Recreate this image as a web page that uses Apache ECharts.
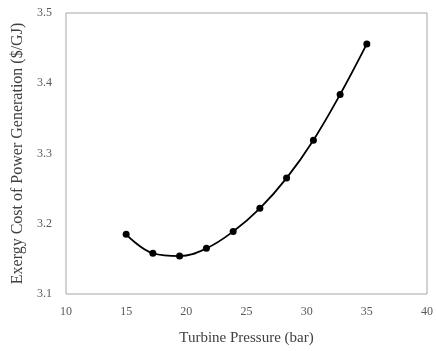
<!DOCTYPE html>
<html>
<head>
<meta charset="utf-8">
<script src="https://cdn.jsdelivr.net/npm/echarts@6/dist/echarts.min.js"></script>
<style>
  html, body { margin: 0; padding: 0; background: #fff; }
  #chart { width: 436px; height: 351px; }
</style>
</head>
<body>
<div id="chart"></div>
<script>
  // turbine pressure (bar) and exergy cost ($/GJ)
  var pressure = [15, 17.22, 19.44, 21.67, 23.89, 26.11, 28.33, 30.56, 32.78, 35];
  var cost = [3.185, 3.158, 3.154, 3.165, 3.189, 3.222, 3.265, 3.319, 3.384, 3.456];
  var xTicks = [10, 40, 5];
  var yTicks = [3.1, 3.5, 0.1];

  var points = [];
  for (var i = 0; i < pressure.length; i++) {
    points.push([pressure[i], cost[i]]);
  }

  var font = 'Liberation Serif';
  var myChart = echarts.init(document.getElementById('chart'));
  var option = {
    animation: false,
    backgroundColor: '#fff',
    grid: {
      left: 66, right: 5, top: 13, bottom: 56,
      show: true, borderColor: '#a6a6a6', borderWidth: 1
    },
    xAxis: {
      type: 'value',
      min: xTicks[0], max: xTicks[1], interval: xTicks[2],
      name: 'Turbine Pressure (bar)',
      nameLocation: 'middle',
      nameGap: 37,
      nameTextStyle: { fontFamily: font, fontSize: 15, color: '#404040' },
      axisLine: { show: false },
      axisTick: { show: false },
      splitLine: { show: false },
      axisLabel: { fontFamily: font, fontSize: 12, color: '#595959', margin: 12 }
    },
    yAxis: {
      type: 'value',
      min: yTicks[0], max: yTicks[1], interval: yTicks[2],
      name: 'Exergy Cost of Power Generation ($/GJ)',
      nameLocation: 'middle',
      nameGap: 40,
      nameTextStyle: { fontFamily: font, fontSize: 16, color: '#404040' },
      axisLine: { show: false },
      axisTick: { show: false },
      splitLine: { show: false },
      axisLabel: {
        fontFamily: font, fontSize: 12, color: '#595959', margin: 14,
        formatter: function (v) { return v.toFixed(1); }
      }
    },
    series: [{
      type: 'line',
      data: points,
      smooth: 0.4,
      symbol: 'circle',
      symbolSize: 7,
      lineStyle: { color: '#000', width: 1.8 },
      itemStyle: { color: '#000' }
    }]
  };
  myChart.setOption(option);
</script>
</body>
</html>
